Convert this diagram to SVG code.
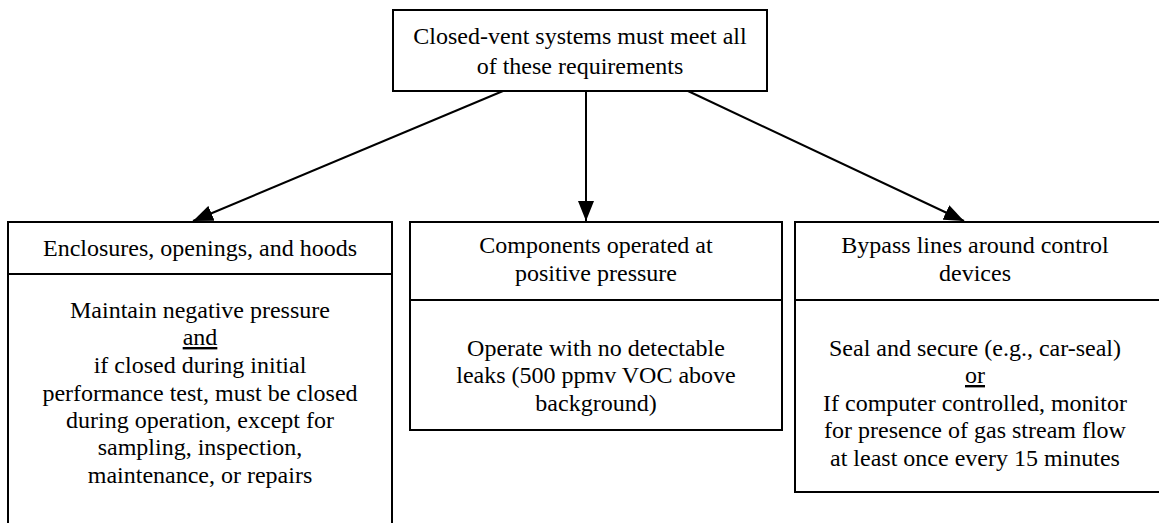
<svg xmlns="http://www.w3.org/2000/svg" width="1159" height="523" viewBox="0 0 1159 523">
<style>
.box{fill:#fff;stroke:#000;stroke-width:2}
.div{stroke:#000;stroke-width:2}
text{font-family:'Liberation Serif','Times New Roman',serif;font-size:24px;fill:#000;text-anchor:middle}
.u{text-decoration:underline}
.c{stroke:#000;stroke-width:2;fill:none;marker-end:url(#ah)}
</style>
<defs>
<marker id="ah" markerWidth="20" markerHeight="16" refX="20" refY="8" orient="auto" markerUnits="userSpaceOnUse" viewBox="0 0 20 16">
<path d="M0,0 L20,8 L0,16 Z" fill="#000"/>
</marker>
</defs>
<rect width="1159" height="523" fill="#fff"/>
<g id="connectors">
<line class="c" x1="503" y1="91" x2="193" y2="221"/>
<line class="c" x1="586" y1="91" x2="586" y2="221"/>
<line class="c" x1="688" y1="91" x2="964" y2="221"/>
</g>
<g id="root">
<rect class="box" x="393" y="10" width="374" height="81"/>
<text x="580" y="44">Closed-vent systems must meet all</text>
<text x="580" y="74">of these requirements</text>
</g>
<g id="enclosures">
<rect class="box" x="8" y="222" width="384" height="320"/>
<line class="div" x1="8" y1="274" x2="392" y2="274"/>
<text x="200" y="256">Enclosures, openings, and hoods</text>
<text x="200" y="318">Maintain negative pressure</text>
<text class="u" x="200" y="345">and</text>
<text x="200" y="373">if closed during initial</text>
<text x="200" y="401">performance test, must be closed</text>
<text x="200" y="428">during operation, except for</text>
<text x="200" y="455">sampling, inspection,</text>
<text x="200" y="483">maintenance, or repairs</text>
</g>
<g id="components">
<rect class="box" x="410" y="222" width="372" height="208"/>
<line class="div" x1="410" y1="300" x2="782" y2="300"/>
<text x="596" y="253">Components operated at</text>
<text x="596" y="281">positive pressure</text>
<text x="596" y="356">Operate with no detectable</text>
<text x="596" y="383">leaks (500 ppmv VOC above</text>
<text x="596" y="411">background)</text>
</g>
<g id="bypass">
<rect class="box" x="795" y="222" width="370" height="270"/>
<line class="div" x1="795" y1="300" x2="1165" y2="300"/>
<text x="975" y="253">Bypass lines around control</text>
<text x="975" y="281">devices</text>
<text x="975" y="356">Seal and secure (e.g., car-seal)</text>
<text class="u" x="975" y="383">or</text>
<text x="975" y="411">If computer controlled, monitor</text>
<text x="975" y="438">for presence of gas stream flow</text>
<text x="975" y="466">at least once every 15 minutes</text>
</g>
</svg>
